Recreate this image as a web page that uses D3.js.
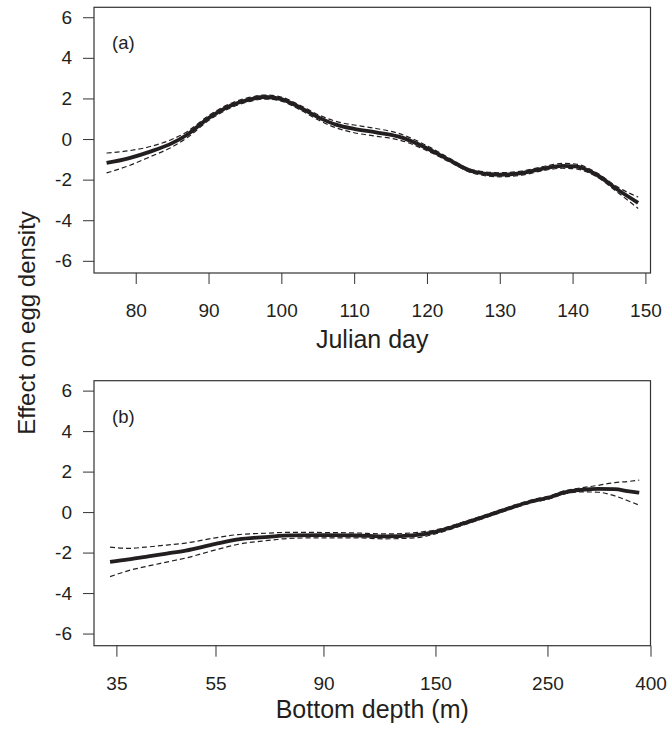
<!DOCTYPE html>
<html>
<head>
<meta charset="utf-8">
<script src="https://cdn.jsdelivr.net/npm/d3@7"></script>
<style>
  body { margin: 0; background: #fff; }
  text { font-family: "Liberation Sans", Arial, sans-serif; fill: #231f20; }
</style>
</head>
<body>
<div id="chart"></div>
<script>
// panel (a): smooth effect of Julian day
var dayX   = [76, 79, 82, 85, 87, 90, 93, 96, 97.7, 100, 102.3, 105.3, 107.6, 110, 113, 116, 120, 123, 126.3, 130, 133, 136.3, 138.6, 140.4, 143.3, 146.2, 149];
var dayFit = [-1.18, -0.95, -0.62, -0.2, 0.2, 1.03, 1.64, 1.98, 2.07, 1.97, 1.6, 1.03, 0.7, 0.5, 0.33, 0.13, -0.45, -1.02, -1.6, -1.76, -1.68, -1.43, -1.32, -1.35, -1.76, -2.5, -3.14];
var daySe  = [0.49, 0.37, 0.25, 0.19, 0.15, 0.12, 0.11, 0.1, 0.1, 0.1, 0.11, 0.13, 0.16, 0.19, 0.19, 0.16, 0.12, 0.09, 0.08, 0.1, 0.1, 0.1, 0.12, 0.12, 0.1, 0.13, 0.28];
var dayTicks = [80, 90, 100, 110, 120, 130, 140, 150];

// panel (b): smooth effect of bottom depth
var depthX   = [34, 37, 40, 44, 48, 55, 61, 70, 77, 90, 104, 119, 137, 150, 162, 175, 193, 213, 235, 252, 270, 292, 315, 340, 360, 380];
var depthFit = [-2.46, -2.34, -2.21, -2.05, -1.9, -1.57, -1.35, -1.22, -1.15, -1.14, -1.15, -1.2, -1.14, -0.98, -0.74, -0.47, -0.12, 0.24, 0.56, 0.72, 0.97, 1.1, 1.15, 1.13, 1.04, 0.96];
var depthSe  = [0.73, 0.55, 0.48, 0.42, 0.37, 0.3, 0.24, 0.18, 0.15, 0.13, 0.12, 0.12, 0.13, 0.1, 0.08, 0.08, 0.07, 0.07, 0.07, 0.07, 0.08, 0.1, 0.17, 0.33, 0.47, 0.62];
var depthTicks = [35, 55, 90, 150, 250, 400];

var yTicks = [-6, -4, -2, 0, 2, 4, 6];

var width = 669, height = 733;
var left = 94, right = 650.5;

var svg = d3.select("#chart")
  .append("svg")
    .attr("width", width)
    .attr("height", height);

// plain hyphen for negatives, like the original
var fmt = function(d) { return String(d); };

function drawPanel(opt) {
  var x = opt.x;
  var y = d3.scaleLinear()
    .domain([-6.6, 6.49])
    .range([opt.bottom, opt.top]);

  var pts = opt.xs.map(function(d, i) {
    return {x: d, fit: opt.fit[i], se: opt.se[i]};
  });

  var g = svg.append("g");

  // y axis
  g.append("g")
    .attr("transform", "translate(" + left + ",0)")
    .call(d3.axisLeft(y).tickValues(yTicks).tickFormat(fmt).tickSizeInner(11).tickSizeOuter(0).tickPadding(11))
    .call(function(a) {
      a.select(".domain").remove();
      a.selectAll("line").attr("stroke", "#333");
      a.selectAll("text").style("font-size", "19px").attr("fill", "#231f20");
    });

  // x axis
  g.append("g")
    .attr("transform", "translate(0," + opt.bottom + ")")
    .call(d3.axisBottom(x).tickValues(opt.ticks).tickFormat(fmt).tickSizeInner(11).tickSizeOuter(0).tickPadding(20))
    .call(function(a) {
      a.select(".domain").remove();
      a.selectAll("line").attr("stroke", "#333");
      a.selectAll("text").style("font-size", "19px").attr("fill", "#231f20");
    });

  // frame
  g.append("rect")
    .attr("x", left)
    .attr("y", opt.top)
    .attr("width", right - left)
    .attr("height", opt.bottom - opt.top)
    .attr("fill", "none")
    .attr("stroke", "#333")
    .attr("stroke-width", 1.2);

  var band = function(sign) {
    return d3.line()
      .x(function(d) { return x(d.x); })
      .y(function(d) { return y(d.fit + sign * d.se); })
      .curve(d3.curveMonotoneX);
  };

  // confidence bands
  [1, -1].forEach(function(s) {
    g.append("path")
      .datum(pts)
      .attr("d", band(s))
      .attr("fill", "none")
      .attr("stroke", "#231f20")
      .attr("stroke-width", 1.2)
      .attr("stroke-dasharray", "5,3");
  });

  // fitted curve
  g.append("path")
    .datum(pts)
    .attr("d", band(0))
    .attr("fill", "none")
    .attr("stroke", "#231f20")
    .attr("stroke-width", 3.8);

  // panel letter
  g.append("text")
    .attr("x", left + 18)
    .attr("y", opt.top + 42)
    .style("font-size", "18.5px")
    .text(opt.letter);

  // x title
  g.append("text")
    .attr("x", (left + right) / 2)
    .attr("y", opt.titleY)
    .attr("text-anchor", "middle")
    .style("font-size", "25px")
    .text(opt.title);
}

drawPanel({
  x: d3.scaleLinear().domain([74.27, 150.7]).range([left, right]),
  xs: dayX, fit: dayFit, se: daySe, ticks: dayTicks,
  top: 7.3, bottom: 273,
  letter: "(a)", title: "Julian day", titleY: 348
});

drawPanel({
  x: d3.scaleLog().domain([31.6, 400]).range([left, right]),
  xs: depthX, fit: depthFit, se: depthSe, ticks: depthTicks,
  top: 380.7, bottom: 645.7,
  letter: "(b)", title: "Bottom depth (m)", titleY: 718
});

// shared y title
svg.append("text")
  .attr("transform", "translate(35,323) rotate(-90)")
  .attr("text-anchor", "middle")
  .style("font-size", "24px")
  .text("Effect on egg density");
</script>
</body>
</html>
